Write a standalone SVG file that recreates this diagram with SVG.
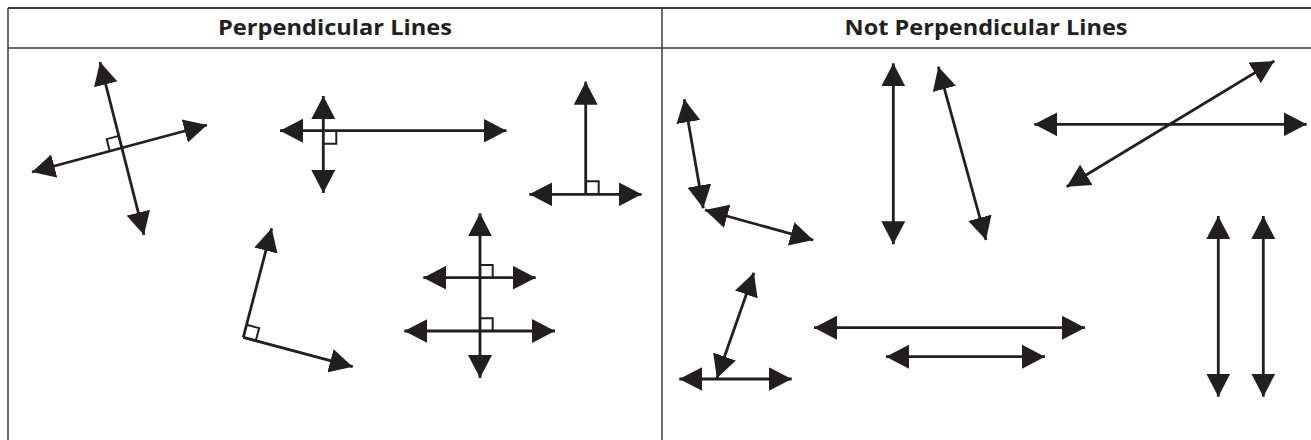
<svg xmlns="http://www.w3.org/2000/svg" width="1311" height="440" viewBox="0 0 1311 440">
<style>
.ln{stroke:#231f20;stroke-width:2.8;fill:none}
.sq{stroke:#231f20;stroke-width:2;fill:none}
.bd{stroke:#3a3a3a;stroke-width:1.5;fill:none}
.hd{font-family:"Open Sans","Noto Sans",sans-serif;font-weight:bold;font-size:22px;fill:#231f20;text-anchor:middle}
.dbl{marker-start:url(#ah);marker-end:url(#ah)}
.ray{marker-end:url(#ah)}
</style>
<defs>
<marker id="ah" viewBox="0 0 23 24" refX="23" refY="12" markerWidth="23" markerHeight="24" markerUnits="userSpaceOnUse" orient="auto-start-reverse">
<path d="M0,0 L23,12 L0,24 Z" fill="#231f20"/>
</marker>
</defs>
<rect width="1311" height="440" fill="#fff"/>
<g id="table">
<line class="bd" x1="8" y1="8" x2="1311" y2="8" style="stroke-width:2.2"/>
<line class="bd" x1="8" y1="48" x2="1311" y2="48"/>
<line class="bd" x1="8" y1="8" x2="8" y2="440"/>
<line class="bd" x1="662" y1="8" x2="662" y2="440"/>
<text class="hd" x="335" y="35" textLength="234" lengthAdjust="spacingAndGlyphs">Perpendicular Lines</text>
<text class="hd" x="986" y="35" textLength="283" lengthAdjust="spacingAndGlyphs">Not Perpendicular Lines</text>
</g>
<g id="connectors">
<g id="p1">
<line class="ln dbl" x1="100" y1="62" x2="144" y2="235"/>
<line class="ln dbl" x1="32" y1="172" x2="207" y2="125"/>
<path class="sq" d="M121.9,148 L118.8,135.9 L106.7,139.1 L109.8,151.2"/>
</g>
<g id="p2">
<line class="ln dbl" x1="280" y1="130.7" x2="506.5" y2="130.7"/>
<line class="ln dbl" x1="323.3" y1="96" x2="323.3" y2="193"/>
<path class="sq" d="M323.3,143.7 L336.3,143.7 L336.3,130.7"/>
</g>
<g id="p3">
<line class="ln dbl" x1="529.3" y1="194.3" x2="641.7" y2="194.3"/>
<line class="ln ray" x1="585.7" y1="194.3" x2="585.7" y2="81.7"/>
<path class="sq" d="M585.7,181.3 L598.7,181.3 L598.7,194.3"/>
</g>
<g id="p4">
<line class="ln ray" x1="243.3" y1="337.3" x2="271.7" y2="228.3"/>
<line class="ln ray" x1="243.3" y1="337.3" x2="352.7" y2="366.7"/>
<path class="sq" d="M246.6,324.7 L259.2,328.1 L255.8,340.6"/>
</g>
<g id="p5">
<line class="ln dbl" x1="480" y1="213.3" x2="480" y2="378"/>
<line class="ln dbl" x1="423.3" y1="277.7" x2="535.7" y2="277.7"/>
<line class="ln dbl" x1="404.3" y1="331" x2="555" y2="331"/>
<path class="sq" d="M480,265 L492.7,265 L492.7,277.7"/>
<path class="sq" d="M480,318.3 L492.7,318.3 L492.7,331"/>
</g>
<g id="n1">
<line class="ln dbl" x1="684.3" y1="99.3" x2="703.3" y2="208.3"/>
<line class="ln dbl" x1="705" y1="210" x2="813.3" y2="240"/>
</g>
<g id="n2">
<line class="ln dbl" x1="893.3" y1="63.3" x2="893.3" y2="244.3"/>
<line class="ln dbl" x1="938.3" y1="66.7" x2="986" y2="240"/>
</g>
<g id="n3">
<line class="ln dbl" x1="1034.3" y1="124.3" x2="1306.7" y2="124.3"/>
<line class="ln dbl" x1="1066.7" y1="186.7" x2="1274.3" y2="61"/>
</g>
<g id="n4">
<line class="ln dbl" x1="679.3" y1="379" x2="791.7" y2="379"/>
<line class="ln dbl" x1="716.9" y1="378.3" x2="753.9" y2="272.7"/>
</g>
<g id="n5">
<line class="ln dbl" x1="814" y1="327.7" x2="1085" y2="327.7"/>
<line class="ln dbl" x1="886" y1="356.7" x2="1045" y2="356.7"/>
</g>
<g id="n6">
<line class="ln dbl" x1="1218.3" y1="216" x2="1218.3" y2="396.7"/>
<line class="ln dbl" x1="1263.3" y1="216" x2="1263.3" y2="396.7"/>
</g>
</g>
</svg>
